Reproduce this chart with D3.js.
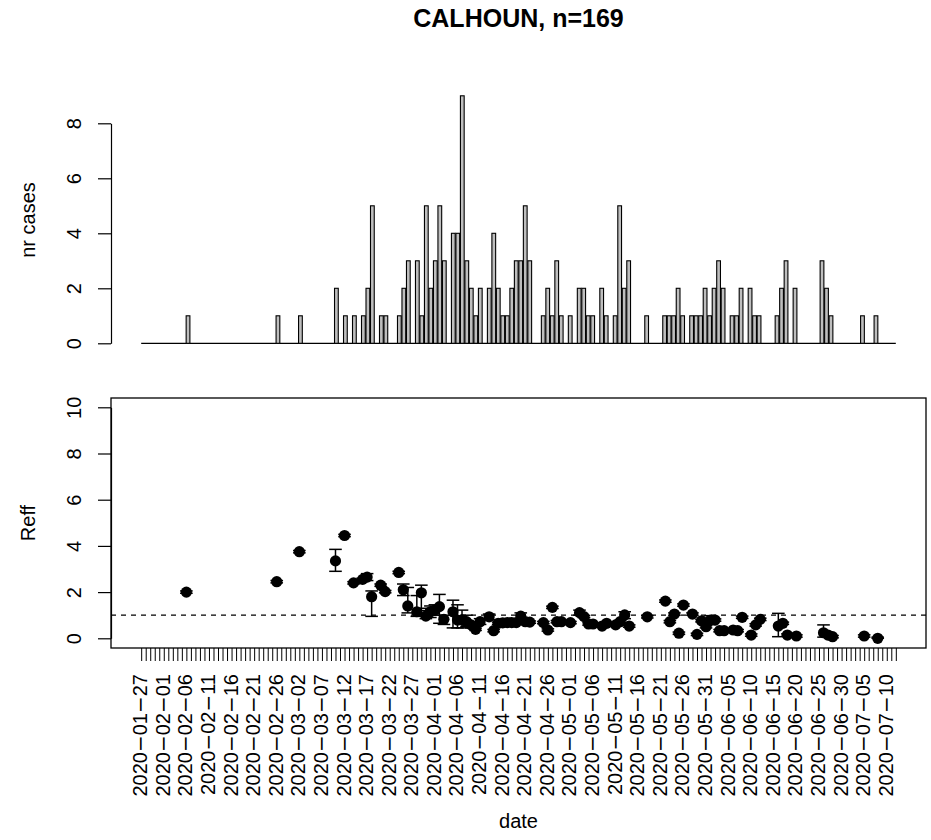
<!DOCTYPE html>
<html>
<head>
<meta charset="utf-8">
<script src="https://cdn.jsdelivr.net/npm/d3@7"></script>
<style>
  html, body { margin: 0; padding: 0; background: #fff; }
  svg { display: block; }
</style>
</head>
<body>
<script>
// ---------------- DATA ----------------
const chartTitle = "CALHOUN, n=169";
const firstDay = "2020-01-27";
const lastDay = "2020-07-12";

// Daily case counts (days not listed have 0 cases)
const caseDates = [
  "2020-02-06","2020-02-26","2020-03-02","2020-03-10","2020-03-12","2020-03-14","2020-03-16","2020-03-17",
  "2020-03-18","2020-03-20","2020-03-21","2020-03-24","2020-03-25","2020-03-26","2020-03-28","2020-03-29",
  "2020-03-30","2020-03-31","2020-04-01","2020-04-02","2020-04-03","2020-04-05","2020-04-06","2020-04-07",
  "2020-04-08","2020-04-09","2020-04-10","2020-04-11","2020-04-13","2020-04-14","2020-04-15","2020-04-16",
  "2020-04-17","2020-04-18","2020-04-19","2020-04-20","2020-04-21","2020-04-22","2020-04-25","2020-04-26",
  "2020-04-27","2020-04-28","2020-04-29","2020-05-01","2020-05-03","2020-05-04","2020-05-05","2020-05-06",
  "2020-05-08","2020-05-09","2020-05-11","2020-05-12","2020-05-13","2020-05-14","2020-05-18","2020-05-22",
  "2020-05-23","2020-05-24","2020-05-25","2020-05-26","2020-05-28","2020-05-29","2020-05-30","2020-05-31",
  "2020-06-01","2020-06-02","2020-06-03","2020-06-04","2020-06-06","2020-06-07","2020-06-08","2020-06-10",
  "2020-06-11","2020-06-12","2020-06-16","2020-06-17","2020-06-18","2020-06-20","2020-06-26","2020-06-27",
  "2020-06-28","2020-07-05","2020-07-08"
];
const caseCounts = [
  1,1,1,2,1,1,1,2,
  5,1,1,1,2,3,3,1,
  5,2,3,5,3,4,4,9,
  3,2,1,2,2,4,2,1,
  1,2,3,3,5,3,1,2,
  1,3,1,1,2,2,1,1,
  2,1,1,5,2,3,1,1,
  1,1,2,1,1,1,1,2,
  1,2,3,2,1,1,2,2,
  1,1,1,2,3,2,3,2,
  1,1,1
];

// Effective reproduction number estimates with confidence limits
const reffDates = caseDates;
const reffValues = [
  2.00,2.45,3.75,3.35,4.45,2.40,2.55,2.65,
  1.80,2.30,2.02,2.85,2.10,1.40,1.15,1.97,
  0.96,1.15,1.22,1.37,0.82,1.15,0.79,0.79,
  0.72,0.58,0.39,0.72,0.93,0.33,0.65,0.67,
  0.68,0.68,0.68,0.96,0.72,0.70,0.68,0.36,
  1.34,0.72,0.72,0.68,1.11,0.94,0.62,0.62,
  0.53,0.65,0.58,0.72,1.01,0.53,0.93,1.61,
  0.72,1.05,0.22,1.44,1.05,0.17,0.76,0.50,
  0.79,0.79,0.33,0.33,0.36,0.33,0.91,0.14,
  0.58,0.82,0.53,0.65,0.14,0.10,0.24,0.14,
  0.07,0.10,0.00
];
const reffLower = [
  1.95,2.40,3.70,2.90,4.40,2.35,2.50,2.50,
  0.95,2.25,1.97,2.80,1.85,1.10,0.95,1.20,
  0.85,0.90,1.00,0.65,0.60,0.45,0.45,0.45,
  0.50,0.45,0.34,0.60,0.80,0.28,0.60,0.62,
  0.63,0.63,0.63,0.80,0.67,0.65,0.63,0.31,
  1.29,0.67,0.67,0.63,1.00,0.89,0.57,0.57,
  0.48,0.60,0.53,0.67,0.85,0.48,0.88,1.56,
  0.67,1.00,0.17,1.39,1.00,0.12,0.71,0.45,
  0.60,0.74,0.28,0.28,0.31,0.28,0.86,0.09,
  0.53,0.77,0.07,0.60,0.09,0.05,0.05,0.09,
  0.02,0.05,0.00
];
const reffUpper = [
  2.05,2.50,3.80,3.85,4.50,2.45,2.60,2.80,
  2.05,2.35,2.07,2.90,2.35,2.20,1.85,2.30,
  1.30,1.40,1.45,1.90,1.00,1.65,1.45,1.22,
  1.00,0.70,0.44,0.85,1.05,0.38,0.70,0.72,
  0.73,0.73,0.73,1.10,0.77,0.75,0.73,0.41,
  1.39,0.77,0.77,0.73,1.22,0.99,0.67,0.67,
  0.58,0.70,0.63,0.77,1.15,0.58,0.98,1.66,
  0.77,1.10,0.27,1.49,1.10,0.22,0.81,0.55,
  0.98,0.84,0.38,0.38,0.41,0.38,0.96,0.19,
  0.63,0.87,1.08,0.70,0.19,0.15,0.58,0.19,
  0.12,0.15,0.05
];

const topTicks = [0, 2, 4, 6, 8];
const bottomTicks = [0, 2, 4, 6, 8, 10];
const labelEvery = 5;
const threshold = 1;

// ---------------- DRAW ----------------
const W = 931, H = 840;
const FONT = "'Liberation Sans', Arial, Helvetica, sans-serif";
const parse = d3.timeParse("%Y-%m-%d");
const fmt = d3.timeFormat("%Y-%m-%d");

const days = d3.timeDay.range(parse(firstDay), d3.timeDay.offset(parse(lastDay), 1));
const n = days.length;
const dayIndex = new Map(days.map((d, i) => [fmt(d), i]));
const countByDay = new Map(caseDates.map((d, i) => [d, caseCounts[i]]));

const svg = d3.select("body").append("svg")
  .attr("width", W).attr("height", H)
  .style("font-family", FONT);
svg.append("rect").attr("width", W).attr("height", H).attr("fill", "#fff");

const plotL = 111, plotR = 926;

// Title
svg.append("text")
  .attr("x", (plotL + plotR) / 2).attr("y", 27)
  .attr("text-anchor", "middle")
  .attr("font-weight", "bold").attr("font-size", 25)
  .text(chartTitle);

// ---------- Top panel: histogram of daily cases ----------
const barSpan = 1.2 * n - 0.2;
const xBar = d3.scaleLinear()
  .domain([0.2 - 0.04 * barSpan, 1.2 * n + 0.04 * barSpan])
  .range([plotL, plotR]);
const yTop = d3.scaleLinear().domain([0, 8]).range([343.3, 123.3]);

const topG = svg.append("g");
// zero-height bars show up as a flat line
topG.append("line")
  .attr("x1", xBar(0.2)).attr("x2", xBar(1.2 * n))
  .attr("y1", yTop(0)).attr("y2", yTop(0))
  .attr("stroke", "#000").attr("stroke-width", 1.2);

topG.selectAll("rect.bar")
  .data(days.map((d, i) => ({ i, v: countByDay.get(fmt(d)) || 0 })).filter(d => d.v > 0))
  .join("rect")
  .attr("class", "bar")
  .attr("x", d => xBar(0.2 + 1.2 * d.i))
  .attr("width", d => xBar(1.2 + 1.2 * d.i) - xBar(0.2 + 1.2 * d.i))
  .attr("y", d => yTop(d.v))
  .attr("height", d => yTop(0) - yTop(d.v))
  .attr("fill", "#bebebe")
  .attr("stroke", "#000")
  .attr("stroke-width", 1.1);

const topAxis = svg.append("g")
  .attr("transform", `translate(${plotL},0)`)
  .call(d3.axisLeft(yTop).tickValues(topTicks).tickSize(13).tickSizeOuter(0));
function styleYAxis(g) {
  g.attr("font-family", null).attr("font-size", null);
  g.select(".domain").attr("stroke-width", 1.2);
  g.selectAll(".tick line").attr("stroke-width", 1.2);
  g.selectAll(".tick text")
    .attr("x", null).attr("dy", null)
    .attr("transform", "translate(-30,0) rotate(-90)")
    .attr("text-anchor", "middle")
    .attr("font-size", 20)
    .attr("fill", "#000");
}
styleYAxis(topAxis);

svg.append("text")
  .attr("transform", `translate(35,220) rotate(-90)`)
  .attr("text-anchor", "middle").attr("font-size", 20)
  .text("nr cases");

// ---------- Bottom panel: Reff ----------
const midSpan = 1.2 * (n - 1);
const xPt = d3.scaleLinear()
  .domain([0.7 - 0.04 * midSpan, 0.7 + midSpan + 0.04 * midSpan])
  .range([plotL, plotR]);
const mid = i => 0.7 + 1.2 * i;
const yBot = d3.scaleLinear().domain([0, 10]).range([638.3, 407.3]);
const boxT = 398, boxB = 648;

const botG = svg.append("g");
botG.append("rect")
  .attr("x", plotL).attr("y", boxT)
  .attr("width", plotR - plotL).attr("height", boxB - boxT)
  .attr("fill", "none").attr("stroke", "#000").attr("stroke-width", 1.3);

// threshold line
botG.append("line")
  .attr("x1", plotL).attr("x2", plotR)
  .attr("y1", yBot(threshold)).attr("y2", yBot(threshold))
  .attr("stroke", "#000").attr("stroke-width", 1.2)
  .attr("stroke-dasharray", "5,5");

const pts = reffDates.map((d, k) => ({
  x: xPt(mid(dayIndex.get(d))),
  v: reffValues[k], lo: reffLower[k], hi: reffUpper[k]
}));

const capW = 6.3;
const eb = botG.append("g").attr("stroke", "#000").attr("stroke-width", 1.5);
eb.selectAll("line.v").data(pts).join("line").attr("class", "v")
  .attr("x1", d => d.x).attr("x2", d => d.x)
  .attr("y1", d => yBot(d.lo)).attr("y2", d => yBot(d.hi));
eb.selectAll("line.lo").data(pts).join("line").attr("class", "lo")
  .attr("x1", d => d.x - capW).attr("x2", d => d.x + capW)
  .attr("y1", d => yBot(d.lo)).attr("y2", d => yBot(d.lo));
eb.selectAll("line.hi").data(pts).join("line").attr("class", "hi")
  .attr("x1", d => d.x - capW).attr("x2", d => d.x + capW)
  .attr("y1", d => yBot(d.hi)).attr("y2", d => yBot(d.hi));

botG.selectAll("circle.pt").data(pts).join("circle").attr("class", "pt")
  .attr("cx", d => d.x).attr("cy", d => yBot(d.v))
  .attr("r", 5.6).attr("fill", "#000");

const botAxis = svg.append("g")
  .attr("transform", `translate(${plotL},0)`)
  .call(d3.axisLeft(yBot).tickValues(bottomTicks).tickSize(13).tickSizeOuter(0));
styleYAxis(botAxis);

svg.append("text")
  .attr("transform", `translate(35,${(boxT + boxB) / 2}) rotate(-90)`)
  .attr("text-anchor", "middle").attr("font-size", 20)
  .text("Reff");

// x axis: one tick per day, label every 5 days
const xAxisG = svg.append("g")
  .attr("transform", `translate(0,${boxB})`)
  .call(d3.axisBottom(xPt).tickValues(days.map((d, i) => mid(i))).tickSize(13).tickSizeOuter(0).tickFormat(""));
xAxisG.select(".domain").remove();
xAxisG.selectAll(".tick line").attr("stroke-width", 1);

const labelled = days.map((d, i) => ({ i, s: fmt(d) })).filter(d => d.i % labelEvery === 0);
const lab = svg.append("g").attr("font-size", 20);
labelled.forEach(d => {
  const t = lab.append("text")
    .attr("transform", `translate(${xPt(mid(d.i)) + 6},${674}) rotate(-90)`)
    .attr("text-anchor", "end");
  d.s.split("-").forEach((part, k) => {
    if (k > 0) t.append("tspan").attr("font-family", "'DejaVu Sans'").text("\u2212");
    t.append("tspan").text(part);
  });
});

svg.append("text")
  .attr("x", (plotL + plotR) / 2).attr("y", 828)
  .attr("text-anchor", "middle").attr("font-size", 20)
  .text("date");
</script>
</body>
</html>
